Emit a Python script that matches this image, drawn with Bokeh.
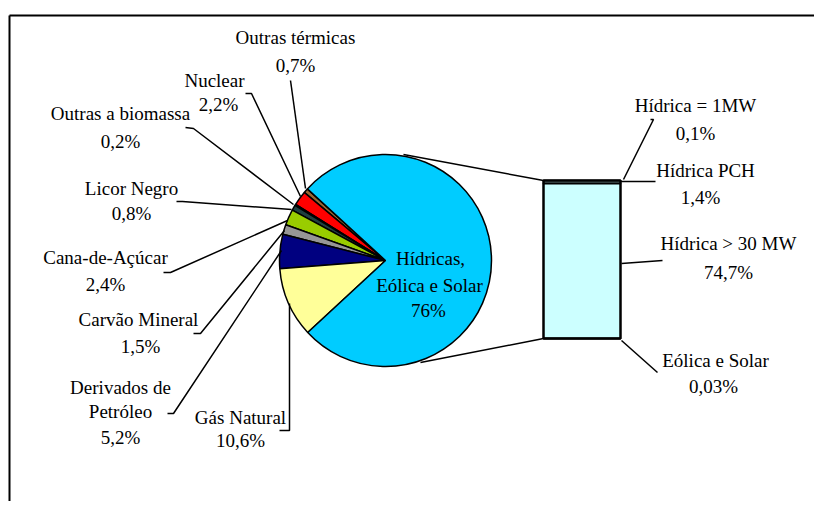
import math
from bokeh.plotting import figure
from bokeh.models import Range1d, ColumnDataSource, Label
from bokeh.core.properties import value
from bokeh.embed import file_html
from bokeh.resources import INLINE

# ---------------- data ----------------
pie_labels = ["Outras térmicas", "Nuclear", "Outras a biomassa", "Licor Negro",
              "Cana-de-Açúcar", "Carvão Mineral", "Derivados de Petróleo",
              "Gás Natural", "Hídricas, Eólica e Solar"]
pie_values = [0.7, 2.2, 0.2, 0.8, 2.4, 1.5, 5.2, 10.6, 76]
pie_colors = ["#996633", "#FF0000", "#000000", "#1F3F3F", "#99CC00",
              "#969696", "#000080", "#FFFF99", "#00CCFF"]

bar_labels = ["Hídrica = 1MW", "Hídrica PCH", "Hídrica > 30 MW", "Eólica e Solar"]
bar_values = [0.1, 1.4, 74.7, 0.03]


def pct(v):
    s = ("%g" % v).replace(".", ",")
    return s + "%"


# ---------------- layout (screen pixels) ----------------
W, H = 814, 501


def Y(sy):
    return H - sy


FONT = "Liberation Serif"
FS = "19px"

p = figure(width=W, height=H, x_range=Range1d(0, W), y_range=Range1d(0, H),
           output_backend="svg", toolbar_location=None, min_border=0)
p.axis.visible = False
p.grid.visible = False
p.outline_line_color = None
p.background_fill_color = "white"

# frame
p.line([9, W], [Y(15), Y(15)], line_color="black", line_width=2)
p.line([9, 9], [Y(15), Y(H)], line_color="black", line_width=2)

# ---------------- pie ----------------
cx, cy, r = 385, Y(260), 106
start_deg = 137.5
total = sum(pie_values)
starts, ends = [], []
a = start_deg
for v in pie_values:
    span = v / total * 360.0
    starts.append(math.radians(a))
    ends.append(math.radians(a + span))
    a += span
pie_src = ColumnDataSource(dict(start=starts, end=ends, color=pie_colors,
                                label=pie_labels, val=pie_values))
p.wedge(x=cx, y=cy, radius=r, start_angle="start", end_angle="end",
        direction="anticlock", fill_color="color", line_color="black",
        line_width=1.5, source=pie_src)

# connectors pie -> bar
bx0, bx1, btop, bbot = 543, 620, Y(180), Y(338)
p.line([403, bx0], [Y(154), btop], line_color="black", line_width=1.5)
p.line([420, bx0], [Y(362), bbot], line_color="black", line_width=1.5)

# ---------------- bar ----------------
btotal = sum(bar_values)
tops, bots = [], []
t = btop
for v in bar_values:
    h = v / btotal * (btop - bbot)
    tops.append(t)
    bots.append(t - h)
    t -= h
bar_src = ColumnDataSource(dict(top=tops, bottom=bots, label=bar_labels, val=bar_values))
p.quad(left=bx0, right=bx1, top="top", bottom="bottom", fill_color="#CCFFFF",
       line_color="black", line_width=2, source=bar_src)
p.quad(left=bx0, right=bx1, top=btop, bottom=bbot, fill_color=None,
       line_color="black", line_width=2)

# ---------------- labels ----------------
left_text_pos = [
    [(295, 37), (295, 65)],
    [(214, 80), (218, 104)],
    [(120, 113), (120, 141)],
    [(131, 188), (131, 213)],
    [(105, 257), (105, 284)],
    [(138, 319), (140, 346)],
    [(120, 387), (120, 411), (120, 437)],
    [(240, 417), (240, 440)],
]
left_leaders = [
    [(290, 80), (305, 188)],
    [(245, 93), (251, 93), (300, 196)],
    [(185, 127), (193, 128), (293, 204)],
    [(176, 201), (182, 201), (291, 209)],
    [(163, 272), (170, 272), (287, 220)],
    [(193, 333), (200, 333), (284, 230)],
    [(167, 413), (173, 413), (281, 250)],
    [(279, 430), (289, 430), (289, 303)],
]
tx, ty, tt = [], [], []
for i, pos in enumerate(left_text_pos):
    name = pie_labels[i]
    if name == "Derivados de Petróleo":
        lines = ["Derivados de", "Petróleo", pct(pie_values[i])]
    else:
        lines = [name, pct(pie_values[i])]
    for (x, y), s in zip(pos, lines):
        tx.append(x); ty.append(Y(y)); tt.append(s)

center_pos = [(430, 258), (429, 285), (428, 310)]
for (x, y), s in zip(center_pos, ["Hídricas,", "Eólica e Solar", pct(pie_values[-1])]):
    tx.append(x); ty.append(Y(y)); tt.append(s)

right_text_pos = [
    [(695, 105), (695, 133)],
    [(705, 170), (700, 197)],
    [(728, 243), (728, 272)],
    [(715, 360), (713, 386)],
]
right_leaders = [
    [(650, 119), (653, 119), (623, 179)],
    [(620, 181), (655, 181)],
    [(621, 263), (662, 260)],
    [(621, 340), (657, 372)],
]
for i, pos in enumerate(right_text_pos):
    for (x, y), s in zip(pos, [bar_labels[i], pct(bar_values[i])]):
        tx.append(x); ty.append(Y(y)); tt.append(s)

for pl in left_leaders + right_leaders:
    p.line([q[0] for q in pl], [Y(q[1]) for q in pl], line_color="black", line_width=1.5)

for x, y, s in zip(tx, ty, tt):
    p.add_layout(Label(x=x, y=y, text=s, text_font=FONT, text_font_size=FS,
                       text_align="center", text_baseline="middle",
                       text_color="black"))

open("out.html", "w").write(file_html(p, INLINE))
